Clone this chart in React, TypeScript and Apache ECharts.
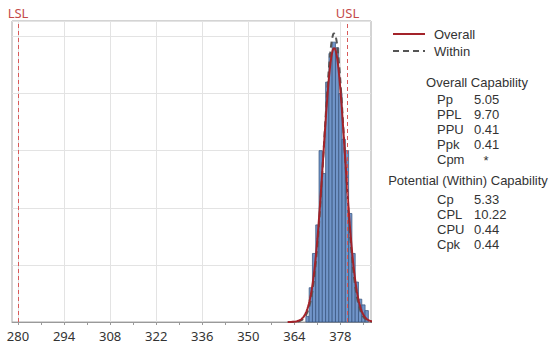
import React, { useEffect, useRef } from "react";
import * as echarts from "echarts";

// ---- data ----
const binCenters = [368, 369, 370, 371, 372, 373, 374, 375, 376, 377, 378, 379, 380, 381, 382, 383, 384, 385, 386];
const binCounts = [1, 6, 12, 17, 30, 26, 42, 47, 49, 48, 40, 32, 30, 19, 12, 7, 4, 3, 2];
const binWidth = 1;

const LSL = 280;
const USL = 380.15;
const processMean = 376.1;
const sigmaOverall = 3.3;
const sigmaWithin = 3.13;
const fitScale = 397; // count scale of the fitted curves

const majorTicks = [280, 294, 308, 322, 336, 350, 364, 378];
const minorTicks = [287, 301, 315, 329, 343, 357, 371, 385];

const overallLabels = ["Pp", "PPL", "PPU", "Ppk", "Cpm"];
const overallValues = ["5.05", "9.70", "0.41", "0.41", "*"];
const withinLabels = ["Cp", "CPL", "CPU", "Cpk"];
const withinValues = ["5.33", "10.22", "0.44", "0.44"];

const X_MIN = 278.17;
const X_MAX = 387.3;

function normalCurve(mu: number, sigma: number, scale: number) {
  const pts: number[][] = [];
  for (let x = 362; x <= 388; x += 0.2) {
    const z = (x - mu) / sigma;
    pts.push([x, (scale * binWidth) / (sigma * Math.sqrt(2 * Math.PI)) * Math.exp(-0.5 * z * z)]);
  }
  return pts;
}

const FONT = "Noto Sans";
const PANEL_FONT = "Liberation Sans";
const TXT = "#333333";

function txt(x: number, y: number, text: string, align: string = "left", size: number = 13) {
  return {
    type: "text", x, y,
    style: { text, fill: TXT, font: `${size}px "${PANEL_FONT}"`, lineHeight: 14, verticalAlign: "middle", align },
  };
}

export default function App() {
  const ref = useRef<HTMLDivElement>(null);
  useEffect(() => {
    if (!ref.current) return;
    const chart = echarts.init(ref.current, undefined, { renderer: "svg" });

    const histData = binCenters.map((c, i) => [c - binWidth / 2, c + binWidth / 2, binCounts[i]]);

    const graphics: any[] = [
      { type: "line", shape: { x1: 393, y1: 34, x2: 425, y2: 34 }, style: { stroke: "#a3232a", lineWidth: 2 } },
      txt(434, 34, "Overall"),
      { type: "line", shape: { x1: 393, y1: 51, x2: 425, y2: 51 }, style: { stroke: "#555555", lineWidth: 2, lineDash: [6, 4] } },
      txt(434, 51, "Within"),
      txt(477, 82, "Overall Capability", "center"),
      txt(468, 180, "Potential (Within) Capability", "center"),
    ];
    overallLabels.forEach((l, i) => {
      const y = 99 + i * 15;
      graphics.push(txt(437, y, l));
      const v = overallValues[i];
      graphics.push(v === "*" ? txt(486, y + 1, v, "center") : txt(474, y, v));
    });
    withinLabels.forEach((l, i) => {
      const y = 199 + i * 15;
      graphics.push(txt(437, y, l));
      graphics.push(txt(474, y, withinValues[i]));
    });

    const option: any = {
      animation: false,
      textStyle: { fontFamily: FONT },
      grid: {
        left: 12, right: 185, top: 21, bottom: 26,
        show: true, borderColor: "#a8a8a8", borderWidth: 1, backgroundColor: "#ffffff",
        outerBoundsMode: "none",
      },
      xAxis: [
        {
          type: "value", min: X_MIN, max: X_MAX,
          axisLine: { show: true, lineStyle: { color: "#9a9a9a" } },
          axisTick: { show: true, length: 3, customValues: majorTicks, lineStyle: { color: "#9a9a9a" } },
          axisLabel: { customValues: majorTicks, color: TXT, fontSize: 13, fontFamily: FONT, margin: 7 },
          splitLine: { show: true, lineStyle: { color: "#e3e3e3", width: 1 } },
        },
        {
          type: "value", min: X_MIN, max: X_MAX, position: "bottom",
          axisLine: { show: false },
          axisTick: { show: true, length: 3, customValues: minorTicks, lineStyle: { color: "#9a9a9a" } },
          axisLabel: { show: false },
          splitLine: { show: false },
        },
      ],
      yAxis: {
        type: "value", min: 0, max: 52.7, interval: 10,
        axisLine: { show: false }, axisTick: { show: false }, axisLabel: { show: false },
        splitLine: { show: true, lineStyle: { color: "#e3e3e3", width: 1 } },
      },
      series: [
        {
          type: "custom",
          xAxisIndex: 0,
          data: histData,
          encode: { x: [0, 1], y: 2 },
          renderItem: (_p: any, api: any) => {
            const lo = api.value(0), hi = api.value(1), h = api.value(2);
            const p0 = api.coord([lo, h]);
            const p1 = api.coord([hi, 0]);
            return {
              type: "rect",
              shape: { x: p0[0], y: p0[1], width: p1[0] - p0[0], height: p1[1] - p0[1] },
              style: { fill: "#7195c9", stroke: "#34507a", lineWidth: 0.7 },
            };
          },
          z: 2,
        },
        {
          type: "line", name: "Within", xAxisIndex: 0,
          data: normalCurve(processMean, sigmaWithin, fitScale),
          showSymbol: false, symbol: "none",
          lineStyle: { color: "#555555", width: 2, type: [6, 4] },
          z: 3,
        },
        {
          type: "line", name: "Overall", xAxisIndex: 0,
          data: normalCurve(processMean, sigmaOverall, fitScale),
          showSymbol: false, symbol: "none",
          lineStyle: { color: "#a3232a", width: 2 },
          z: 4,
          markLine: {
            silent: true, symbol: ["none", "none"],
            lineStyle: { color: "#d85a5a", width: 1, type: [4, 3] },
            label: { show: true, position: "end", distance: 2, color: "#c44a4a", fontSize: 13, fontFamily: FONT },
            data: [
              { xAxis: LSL, label: { formatter: "LSL" } },
              { xAxis: USL, label: { formatter: "USL" } },
            ],
          },
        },
      ],
      graphic: graphics,
    };
    chart.setOption(option);
    return () => chart.dispose();
  }, []);
  return <div ref={ref} style={{ position: "fixed", left: 0, top: 0, width: 556, height: 348, background: "#fff" }} />;
}
